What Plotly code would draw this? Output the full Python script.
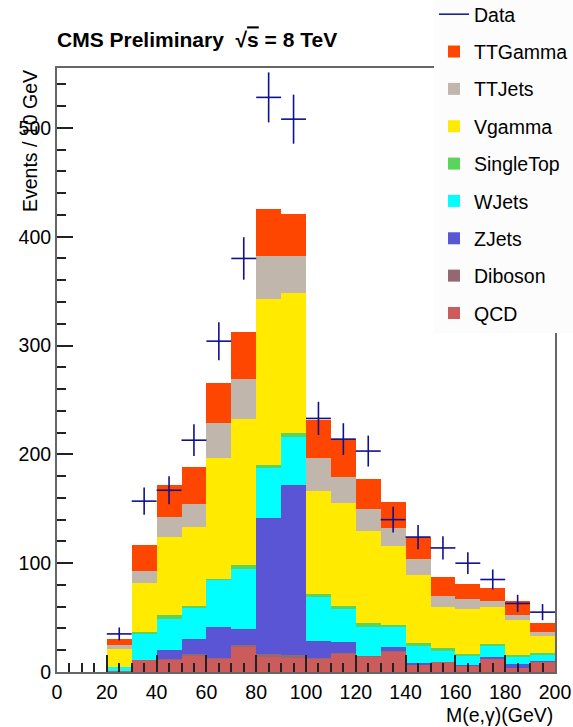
import numpy as np
import plotly.graph_objects as go

# bin centres (10 GeV bins, 20-200 GeV)
bins = [25, 35, 45, 55, 65, 75, 85, 95, 105, 115, 125, 135, 145, 155, 165, 175, 185, 195]

qcd = [0.5, 11, 11.6, 15.5, 12.5, 23, 13.5, 12.5, 12.8, 17, 14.6, 19.2, 6.6, 9.4, 6.3, 11.6, 4, 10.1]
diboson = [0, 0, 0.4, 0.8, 0.5, 2, 3, 3.5, 0.4, 0.2, 0.1, 0.1, 0, 0, 0, 0, 0, 0]
zjets = [0, 0, 8.2, 14.2, 28.7, 14.7, 124.7, 155.9, 15.1, 10, 0.3, 4, 1.9, 0.2, 0.1, 2.4, 3.8, 0.2]
wjets = [4.3, 24, 28.8, 29.0, 42.9, 55, 45.8, 43.8, 40.4, 30.8, 26.4, 17.6, 16.2, 10.5, 9.1, 10.8, 6.8, 5.5]
singletop = [0.2, 2.1, 3.4, 1.2, 1.2, 3.3, 3.1, 4.3, 2.6, 2.5, 3.4, 2.4, 1.6, 1.5, 0.9, 0.9, 0.6, 1.3]
vgamma = [16.2, 45, 72, 72.3, 111.2, 134.2, 152.7, 128, 95.1, 95.1, 84.8, 72.8, 63.2, 38, 41.6, 33.9, 33, 15.8]
ttjets = [3.9, 10.7, 18.4, 21.4, 31.6, 37.1, 39, 34.4, 30.4, 23.9, 19.9, 16, 13.9, 9.8, 9, 5.9, 4.3, 4.2]
ttgamma = [5.2, 23.9, 29.1, 33.7, 36.7, 43.5, 43.8, 38.6, 34.8, 34.7, 28.2, 24.4, 21, 17.9, 14, 11.5, 12.5, 8.3]

data = [35, 157, 167, 213, 304, 380, 528, 508, 233, 214, 203, 140, 124, 114, 100, 85, 63, 55]

FONT = "Liberation Sans, Arial, Helvetica, sans-serif"
FS = 19.5
DATA_COLOR = "#10108f"

stack = [
    ("QCD", qcd, "rgb(204,92,92)"),
    ("Diboson", diboson, "rgb(148,104,112)"),
    ("ZJets", zjets, "rgb(90,85,213)"),
    ("WJets", wjets, "rgb(0,255,255)"),
    ("SingleTop", singletop, "rgb(90,212,90)"),
    ("Vgamma", vgamma, "rgb(255,234,0)"),
    ("TTJets", ttjets, "rgb(192,182,172)"),
    ("TTGamma", ttgamma, "rgb(255,70,0)"),
]

fig = go.Figure()
n = len(stack)
for i, (name, vals, col) in enumerate(stack):
    fig.add_trace(go.Bar(
        x=bins, y=vals, name=name, width=10,
        marker=dict(color=col, line=dict(width=0)),
        legendgroup=name, legendrank=100 + (n - i),
    ))

err = [float(np.sqrt(v)) for v in data]
fig.add_trace(go.Scatter(
    x=bins, y=data, mode="markers", showlegend=False,
    marker=dict(size=1, color=DATA_COLOR, opacity=0),
    error_x=dict(type="constant", value=5, width=0, thickness=1.6, color=DATA_COLOR),
    error_y=dict(type="data", array=err, width=0, thickness=1.6, color=DATA_COLOR),
))
# legend entry for data
fig.add_trace(go.Scatter(
    x=[None], y=[None], mode="lines", name="Data",
    line=dict(color=DATA_COLOR, width=1.5),
    legendgroup="Data", legendrank=100,
))

fig.update_layout(
    width=573, height=727,
    margin=dict(l=57, r=18, t=68, b=55, autoexpand=False),
    barmode="stack", bargap=0,
    paper_bgcolor="white", plot_bgcolor="white",
    font=dict(family=FONT, size=FS, color="black"),
    title=dict(
        text="<b>CMS Preliminary  √<span style='text-decoration:overline'>s</span> = 8 TeV</b>",
        x=57 / 573, xanchor="left", y=1 - 40 / 727, yanchor="middle",
        font=dict(family=FONT, size=21, color="black"),
    ),
    showlegend=True,
    legend=dict(
        x=(434 - 57) / 498, xanchor="left", y=(672 + 5) / 604, yanchor="top",
        bgcolor="rgb(252,252,252)", borderwidth=0,
        traceorder="grouped", tracegroupgap=9,
        font=dict(family=FONT, size=FS, color="black"),
    ),
    xaxis=dict(
        range=[0, 200], dtick=20, tick0=0,
        ticks="inside", ticklen=17, tickwidth=1.5, tickcolor="#222",
        minor=dict(dtick=5, ticks="inside", ticklen=9, tickwidth=1.5, tickcolor="#222"),
        showline=True, linecolor="#666", linewidth=2, mirror=True,
        showgrid=False, zeroline=False,
        tickfont=dict(family=FONT, size=FS, color="black"),
        ticklabelstandoff=2,
    ),
    yaxis=dict(
        range=[0, 555], dtick=100, tick0=0,
        ticks="inside", ticklen=16, tickwidth=1.5, tickcolor="#222",
        minor=dict(dtick=20, ticks="inside", ticklen=9, tickwidth=1.5, tickcolor="#222"),
        showline=True, linecolor="#666", linewidth=2, mirror=True,
        showgrid=False, zeroline=False,
        tickfont=dict(family=FONT, size=FS, color="black"),
    ),
    annotations=[
        dict(text="Events / 10 GeV", textangle=-90, xref="paper", yref="paper",
             x=0, y=1, xanchor="center", yanchor="top", xshift=-27,
             showarrow=False, font=dict(family=FONT, size=FS, color="black")),
        dict(text="M(e,γ)(GeV)", xref="paper", yref="paper",
             x=1, y=0, xanchor="right", yanchor="middle", yshift=-43,
             showarrow=False, font=dict(family=FONT, size=FS, color="black")),
    ],
)

fig.write_html("out.html")
